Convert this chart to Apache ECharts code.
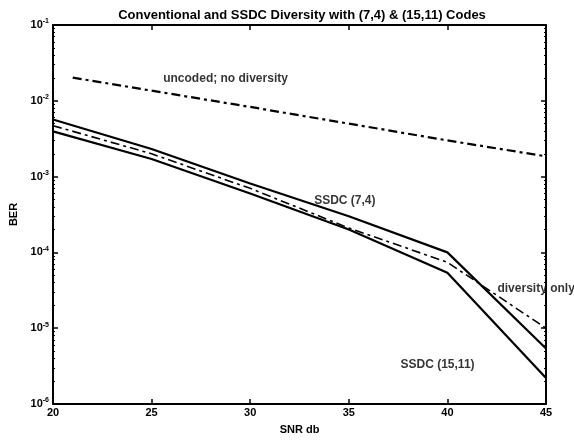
<!DOCTYPE html>
<html><head><meta charset="utf-8">
<script src="https://cdn.jsdelivr.net/npm/echarts@6/dist/echarts.min.js"></script>
<style>html,body{margin:0;padding:0;background:#fff}#c{width:574px;height:440px}</style>
</head><body><div id="c"></div>
<script>
const snrUncoded = [21, 25, 30, 35, 40, 45];
const berUncoded = [0.0202, 0.0136, 0.0083, 0.0050, 0.0030, 0.00185];
const snr = [20, 25, 30, 35, 40, 45];
const berSSDC74 = [5.66e-3, 2.31e-3, 8.1e-4, 3.0e-4, 1.0e-4, 5.4e-6];
const berSSDC1511 = [3.95e-3, 1.71e-3, 6.0e-4, 2.0e-4, 5.4e-5, 2.2e-6];
const berDiversity = [4.7e-3, 2.0e-3, 7.0e-4, 2.1e-4, 7.4e-5, 1.0e-5];
const xTicks = [20, 25, 30, 35, 40, 45];
const yExponents = [-1, -2, -3, -4, -5, -6];
const annotations = [
  {text: 'uncoded; no diversity', snr: 28.75, ber: 0.0193},
  {text: 'SSDC (7,4)', snr: 34.8, ber: 4.8e-4},
  {text: 'diversity only', snr: 44.5, ber: 3.3e-5},
  {text: 'SSDC (15,11)', snr: 39.5, ber: 3.3e-6}
];

const FONT = '"Liberation Sans", Arial, sans-serif';
const chart = echarts.init(document.getElementById('c'));
const pair = (xs, ys) => xs.map((x, i) => [x, ys[i]]);
const solid = {color: '#000', width: 2.2};
const dashdot = {color: '#000', width: 2.2, type: [9, 4, 3, 4]};

const yLabel = v => {
  const e = Math.round(Math.log10(v));
  return '{b|10}{s|' + e + '}';
};

chart.setOption({
  animation: false,
  title: {
    text: 'Conventional and SSDC Diversity with (7,4) & (15,11) Codes',
    left: 297, top: 4, textAlign: 'center',
    textStyle: {fontFamily: FONT, fontSize: 13, fontWeight: 'bold', color: '#000'}
  },
  grid: {left: 53, right: 28, top: 25, bottom: 31},
  xAxis: [{
    type: 'value', min: 20, max: 45, interval: 5,
    name: 'SNR db', nameLocation: 'middle', nameGap: 20,
    nameTextStyle: {fontFamily: FONT, fontSize: 11, fontWeight: 'bold', color: '#000'},
    axisLine: {lineStyle: {color: '#000', width: 2}},
    axisTick: {inside: true, length: 5, lineStyle: {color: '#000', width: 1.5}},
    axisLabel: {fontFamily: FONT, fontSize: 11, fontWeight: 'bold', color: '#000', margin: 3},
    splitLine: {show: false}
  }, {
    type: 'value', min: 20, max: 45, interval: 5, position: 'top',
    axisLine: {lineStyle: {color: '#000', width: 2}},
    axisTick: {inside: true, length: 5, lineStyle: {color: '#000', width: 1.5}},
    axisLabel: {show: false}, splitLine: {show: false}
  }],
  yAxis: [{
    type: 'log', min: 1e-6, max: 1e-1, logBase: 10,
    name: 'BER', nameLocation: 'middle', nameGap: 30,
    nameTextStyle: {fontFamily: FONT, fontSize: 11, fontWeight: 'bold', color: '#000'},
    axisLine: {lineStyle: {color: '#000', width: 2}},
    axisTick: {inside: true, length: 5, lineStyle: {color: '#000', width: 1.5}},
    minorTick: {show: true, splitNumber: 9, length: 2, lineStyle: {color: '#000'}},
    axisLabel: {
      margin: 4, formatter: yLabel,
      rich: {
        b: {fontFamily: FONT, fontSize: 11, fontWeight: 'bold', color: '#000'},
        s: {fontFamily: FONT, fontSize: 7, fontWeight: 'bold', color: '#000', verticalAlign: 'top', padding: [0,0,7,0]}
      }
    },
    splitLine: {show: false}
  }, {
    type: 'log', min: 1e-6, max: 1e-1, logBase: 10, position: 'right',
    axisLine: {lineStyle: {color: '#000', width: 2}},
    axisTick: {inside: true, length: 5, lineStyle: {color: '#000', width: 1.5}},
    minorTick: {show: true, splitNumber: 9, length: 2, lineStyle: {color: '#000'}},
    axisLabel: {show: false}, splitLine: {show: false}
  }],
  series: [
    {type: 'line', name: 'uncoded; no diversity', data: pair(snrUncoded, berUncoded), showSymbol: false, lineStyle: dashdot},
    {type: 'line', name: 'SSDC (7,4)', data: pair(snr, berSSDC74), showSymbol: false, lineStyle: solid},
    {type: 'line', name: 'diversity only', data: pair(snr, berDiversity), showSymbol: false, lineStyle: {color: '#000', width: 1.6, type: [9, 4, 3, 4]}},
    {type: 'line', name: 'SSDC (15,11)', data: pair(snr, berSSDC1511), showSymbol: false, lineStyle: solid},
    {type: 'scatter', data: annotations.map(a => ({value: [a.snr, a.ber], name: a.text})),
     symbolSize: 0, silent: true, clip: false,
     label: {show: true, position: 'inside', formatter: p => p.name,
       fontFamily: FONT, fontSize: 12, fontWeight: 'bold', color: '#000'}}
  ]
});
</script></body></html>
